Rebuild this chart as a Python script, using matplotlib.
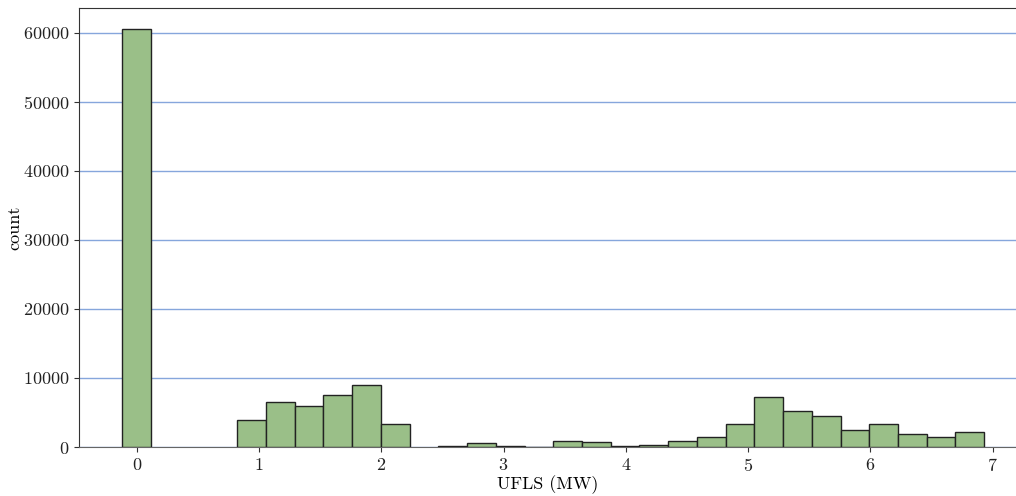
import matplotlib
matplotlib.use("Agg")
import matplotlib.pyplot as plt
import numpy as np

# histogram bins (MW) and counts
bin_start = -0.117
bin_stop = 6.93
n_bins = 30
counts = [60490, 0, 0, 0, 3970, 6530, 6000, 7540, 9040, 3380,
          0, 100, 520, 150, 40, 900, 720, 200, 300, 800,
          1400, 3380, 7300, 5270, 4540, 2520, 3340, 1940, 1500, 2180]

edges = np.linspace(bin_start, bin_stop, n_bins + 1)
counts = np.array(counts)
keep = counts > 0  # empty bins draw nothing

plt.rcParams.update({"font.family": "serif", "font.serif": ["cmr10", "DejaVu Serif"],
                     "mathtext.fontset": "cm", "axes.formatter.use_mathtext": True,
                     "font.size": 13})

fig = plt.figure(figsize=(10.16, 4.96), dpi=100)
ax = fig.add_axes([79 / 1016, 1 - 447 / 496, 1 - 79 / 1016, (447 - 8) / 496])

ax.bar(edges[:-1][keep], counts[keep], width=np.diff(edges)[keep], align="edge",
       color="#9abf88", edgecolor="#222222", linewidth=1.0, zorder=3)

ax.set_xlim(-0.472, 7.19)
ax.set_ylim(0, 63580)
ax.set_xticks(range(8))
ax.set_yticks(range(0, 60001, 10000))
ax.yaxis.grid(True, color="#86a6dc", linewidth=1.0, zorder=0)
ax.set_axisbelow(True)

ax.spines["right"].set_visible(False)
ax.spines["top"].set_color("#333333")
ax.spines["left"].set_color("#333333")
ax.spines["bottom"].set_color("#666666")
ax.tick_params(colors="#333333", labelcolor="#222222", labelsize=13)

ax.set_xlabel("UFLS (MW)", fontsize=13, labelpad=1)
ax.set_ylabel("count", fontsize=13, labelpad=0)

fig.savefig("out.png", dpi=100)
